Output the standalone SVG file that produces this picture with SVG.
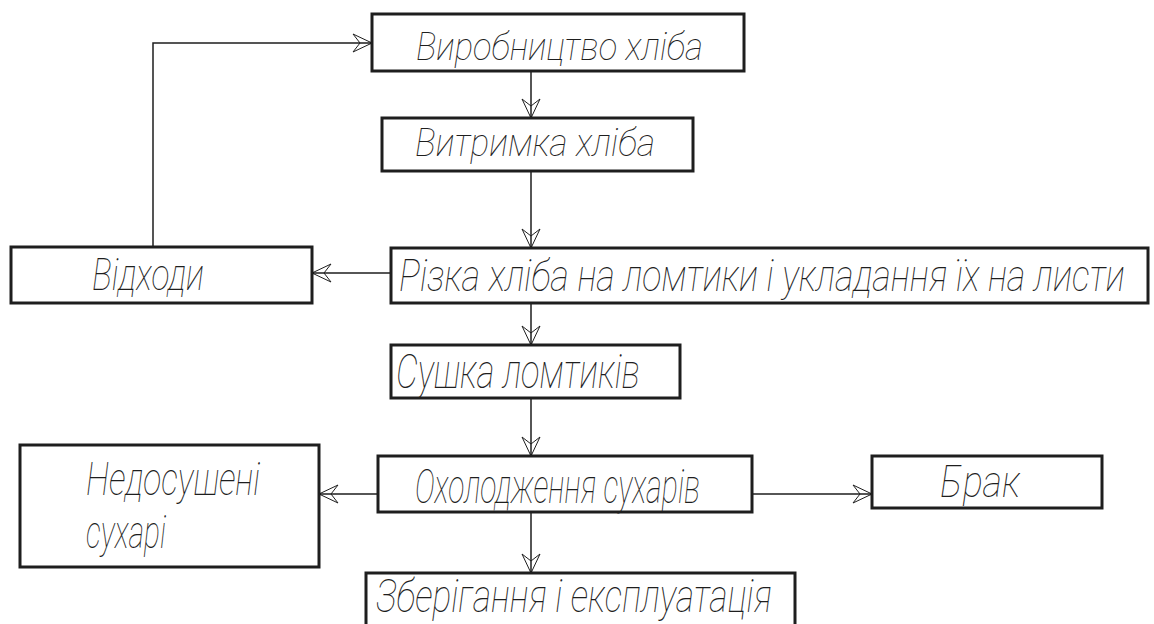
<svg xmlns="http://www.w3.org/2000/svg" width="1154" height="624" viewBox="0 0 1154 624">
<style>
.box{fill:#fff;stroke:#1e1e1e;stroke-width:3}
.ln{fill:none;stroke:#1e1e1e;stroke-width:1.5}
.arr{marker-end:url(#ah)}
.t{font-family:Roboto,"DejaVu Sans",sans-serif;font-style:italic;font-weight:100;fill:#1e1e1e}
</style>
<defs>
<marker id="ah" viewBox="-22 -12 24 24" refX="0" refY="0" markerWidth="24" markerHeight="24" orient="auto" markerUnits="userSpaceOnUse">
<path d="M0,0 L-19,-9 L-12,0 L-19,9 Z" fill="none" stroke="#1e1e1e" stroke-width="1"/>
<circle r="1.8" fill="#111"/>
</marker>
</defs>
<rect width="1154" height="624" fill="#fff"/>
<g id="connectors">
<path class="ln arr" d="M531,71 V118"/>
<path class="ln arr" d="M531,171 V248"/>
<path class="ln arr" d="M391,273 H312"/>
<path class="ln arr" d="M153,247 V43 H372"/>
<path class="ln arr" d="M531,303 V345"/>
<path class="ln arr" d="M531,398 V456"/>
<path class="ln arr" d="M378,494 H319"/>
<path class="ln arr" d="M752,494 H872"/>
<path class="ln arr" d="M531,512 V573"/>
</g>
<g id="n1"><rect class="box" x="372" y="14" width="372" height="57"/>
<text class="t" x="416" y="60" font-size="38" textLength="287" lengthAdjust="spacingAndGlyphs">Виробництво хліба</text></g>
<g id="n2"><rect class="box" x="382" y="118" width="311" height="53"/>
<text class="t" x="415" y="156" font-size="38" textLength="240" lengthAdjust="spacingAndGlyphs">Витримка хліба</text></g>
<g id="n3"><rect class="box" x="391" y="248" width="757" height="55"/>
<text class="t" transform="scale(0.7,1)" x="570" y="291" font-size="44" textLength="1037" lengthAdjust="spacingAndGlyphs">Різка хліба на ломтики і укладання їх на листи</text></g>
<g id="n4"><rect class="box" x="11" y="247" width="301" height="56"/>
<text class="t" x="92" y="290" font-size="44" textLength="112" lengthAdjust="spacingAndGlyphs">Відходи</text></g>
<g id="n5"><rect class="box" x="391" y="345" width="289" height="53"/>
<text class="t" x="396" y="388" font-size="48" textLength="244" lengthAdjust="spacingAndGlyphs">Сушка ломтиків</text></g>
<g id="n6"><rect class="box" x="378" y="456" width="374" height="56"/>
<text class="t" x="415" y="503" font-size="48" textLength="285" lengthAdjust="spacingAndGlyphs">Охолодження сухарів</text></g>
<g id="n7"><rect class="box" x="20" y="445" width="299" height="122"/>
<text class="t" x="86" y="495" font-size="46" textLength="174" lengthAdjust="spacingAndGlyphs">Недосушені</text>
<text class="t" x="86" y="548" font-size="46" textLength="80" lengthAdjust="spacingAndGlyphs">сухарі</text></g>
<g id="n8"><rect class="box" x="872" y="456" width="230" height="52"/>
<text class="t" x="940" y="497" font-size="44" textLength="80" lengthAdjust="spacingAndGlyphs">Брак</text></g>
<g id="n9"><rect class="box" x="366" y="573" width="429" height="70"/>
<text class="t" x="376" y="612" font-size="46" textLength="396" lengthAdjust="spacingAndGlyphs">Зберігання і експлуатація</text></g>
</svg>
